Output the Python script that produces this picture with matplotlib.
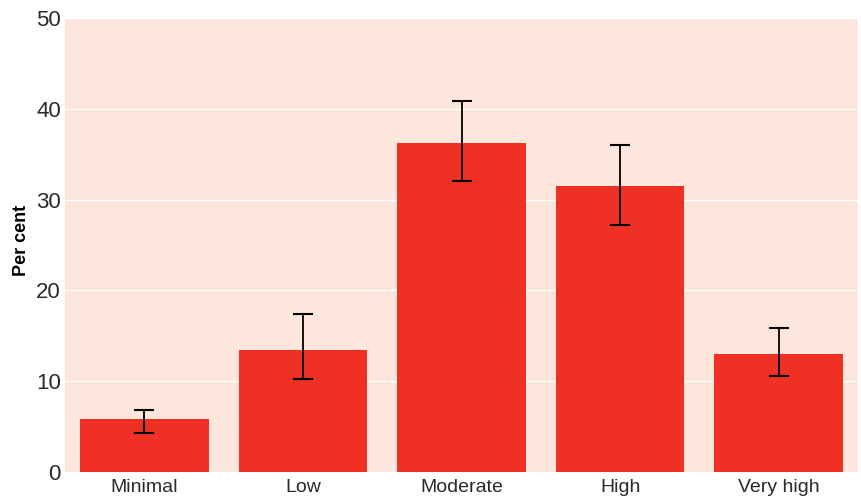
import matplotlib
matplotlib.use("Agg")
import matplotlib.pyplot as plt
import numpy as np

categories = ["Minimal", "Low", "Moderate", "High", "Very high"]
values = [5.8, 13.4, 36.2, 31.5, 13.0]
err_low = [4.3, 10.2, 32.0, 27.2, 10.55]
err_high = [6.8, 17.4, 40.9, 36.0, 15.9]
y_ticks = [0, 10, 20, 30, 40, 50]

plt.rcParams["font.family"] = ["Liberation Sans", "DejaVu Sans"]

fig = plt.figure(figsize=(8.62, 5.01), dpi=100)
ax = fig.add_axes([65 / 862, 29 / 501, 793 / 862, 454 / 501])
ax.set_facecolor("#FDE6DC")

x = np.arange(len(categories))
vals = np.array(values)
yerr = np.vstack([vals - np.array(err_low), np.array(err_high) - vals])

ax.bar(x, vals, width=0.81, color="#EE3124", zorder=2)
ax.errorbar(x, vals, yerr=yerr, fmt="none", ecolor="black", elinewidth=1.3,
            capsize=7, capthick=1.5, zorder=3)

ax.set_xlim(-0.5, 4.5)
ax.set_ylim(0, 50)
ax.set_yticks(y_ticks)
ax.set_xticks(x)
ax.set_xticklabels(categories)
ax.yaxis.grid(True, color="white", linewidth=1.0, zorder=1)
ax.set_axisbelow(True)
for s in ax.spines.values():
    s.set_visible(False)
ax.tick_params(axis="x", length=0, labelsize=14, colors="#2a2a2a", pad=5)
ax.tick_params(axis="y", length=0, labelsize=16, colors="#2a2a2a", pad=3)
ax.set_ylabel("Per cent", fontsize=13, fontweight="bold", color="black")
ax.yaxis.set_label_coords(-0.044, 0.51)

fig.savefig("out.png", dpi=100)
